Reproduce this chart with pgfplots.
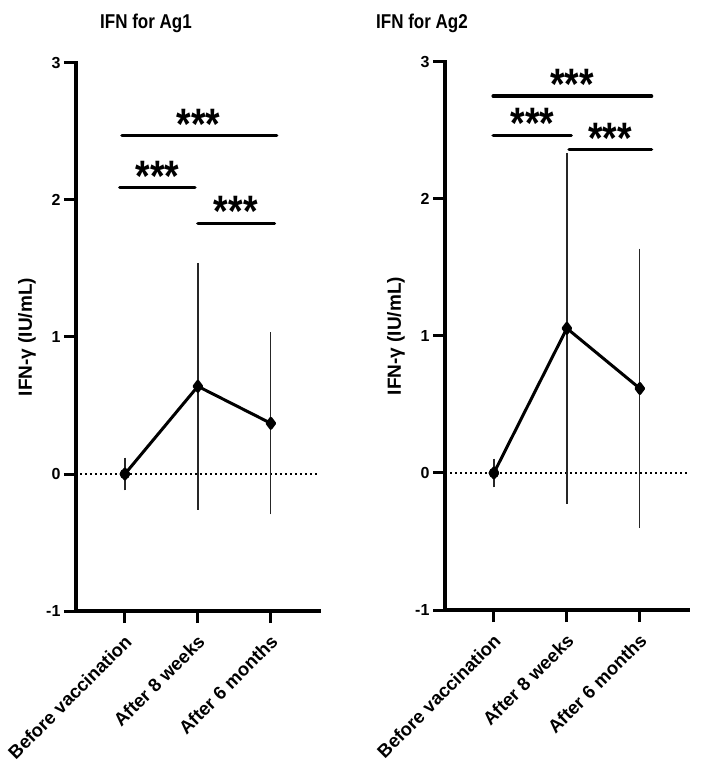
\documentclass[border=0pt]{standalone}
\usepackage{fontspec}
\setmainfont{Liberation Sans}
\newfontfamily\titlefont[FakeStretch=0.85]{Liberation Sans}
\newfontfamily\starfont[FakeStretch=0.85]{Liberation Sans}
\usepackage{pgfplots}
\pgfplotsset{compat=1.18}
\pgfplotsset{panel/.style={
  scale only axis, width=243pt, height=548pt, anchor=south west,
  xmin=-0.67, xmax=2.66, ymin=-1, ymax=3,
  axis x line=bottom, axis y line=left,
  axis line style={-, line width=3.5pt, line cap=rect},
  xtick={0,1,2}, xticklabels={Before vaccination, After 8 weeks, After 6 months},
  ytick={-1,0,1,2,3}, yticklabels={-1,0,1,2,3},
  tick align=outside, major tick length=12pt,
  every tick/.style={black, line width=3pt},
  xticklabel style={xshift=-1.5pt, yshift=-9pt, rotate=45, anchor=north east, font=\fontsize{18.5}{18.5}\bfseries\selectfont, inner sep=1pt},
  yticklabel style={font=\fontsize{16}{16}\bfseries\selectfont},
  ylabel={IFN-γ (IU/mL)},
  ylabel style={at={(axis description cs:-0.202,0.5)}, anchor=center, font=\fontsize{19}{19}\bfseries\selectfont},
  clip=false,
}}
\pgfplotsset{meanline/.style={black, line width=3pt, line join=round, mark=diamond*, mark size=5pt,
    mark options={solid},
    error bars/.cd, y dir=both, y explicit,
    error bar style={line width=1.3pt, black!85},
    error mark options={line width=1.3pt, black!85, mark size=5.5pt}}}
\tikzset{stars/.style={font=\starfont\fontsize{44}{44}\bfseries\selectfont, anchor=base, yshift=-3.7pt, inner sep=0pt},
  sig/.style={black, line width=3.5pt, line cap=round},
  dotline/.style={black, line width=1.8pt, dash pattern=on 1.8pt off 3.2pt}}
\begin{document}
\begin{tikzpicture}
\path[use as bounding box] (0,0) rectangle (703pt,766pt);
\node[font=\titlefont\fontsize{20}{20}\bfseries\selectfont, anchor=base] at (146pt,737pt) {IFN for Ag1};
\node[font=\titlefont\fontsize{20}{20}\bfseries\selectfont, anchor=base] at (422pt,737pt) {IFN for Ag2};
% Left panel
\begin{axis}[panel, at={(76pt,155pt)}]
\addplot[dotline] coordinates {(-0.616,0) (2.63,0)};
\addplot[meanline] coordinates {(0,0) +- (0,0.08) (1,0.64) +- (0,0.86) (2,0.37) +- (0,0.625)};
\addplot[black, only marks, mark=*, mark size=5pt] coordinates {(0,0)};
\addplot[sig] coordinates {(-0.04,2.47) (2.08,2.47)};
\addplot[sig] coordinates {(-0.07,2.09) (0.96,2.09)};
\addplot[sig] coordinates {(1.0,1.83) (2.05,1.83)};
\node[stars] at (axis cs:1.007,2.47) {***};
\node[stars] at (axis cs:0.445,2.09) {***};
\node[stars] at (axis cs:1.52,1.83) {***};
\end{axis}
% Right panel
\begin{axis}[panel, at={(445pt,156pt)}]
\addplot[dotline] coordinates {(-0.60,0) (2.64,0)};
\addplot[meanline] coordinates {(0,0) +- (0,0.065) (1,1.056) +- (0,1.24) (2,0.617) +- (0,0.98)};
\addplot[black, only marks, mark=*, mark size=5pt] coordinates {(0,0)};
\addplot[sig] coordinates {(-0.01,2.75) (2.16,2.75)};
\addplot[sig] coordinates {(-0.01,2.465) (1.06,2.465)};
\addplot[sig] coordinates {(1.03,2.36) (2.16,2.36)};
\node[stars] at (axis cs:1.07,2.75) {***};
\node[stars] at (axis cs:0.53,2.465) {***};
\node[stars] at (axis cs:1.59,2.36) {***};
\end{axis}
\end{tikzpicture}
\end{document}
